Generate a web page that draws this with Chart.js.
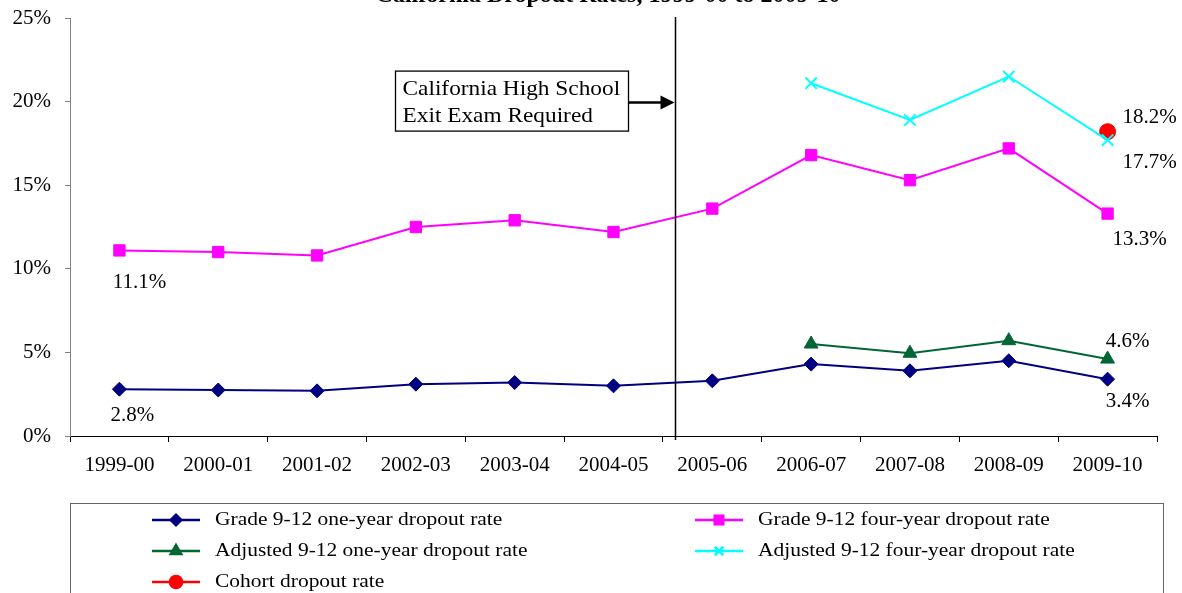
<!DOCTYPE html>
<html>
<head>
<meta charset="utf-8">
<script src="https://cdn.jsdelivr.net/npm/chart.js@4"></script>
<style>
  html, body { margin: 0; padding: 0; background: #fff; }
  canvas { display: block; }
</style>
</head>
<body>
<canvas id="chart" width="1182" height="593"></canvas>
<script>
const years = ['1999-00', '2000-01', '2001-02', '2002-03', '2003-04', '2004-05',
               '2005-06', '2006-07', '2007-08', '2008-09', '2009-10'];
const oneYear = [2.8, 2.75, 2.7, 3.1, 3.2, 3.0, 3.3, 4.3, 3.9, 4.5, 3.4];
const fourYear = [11.1, 11.0, 10.8, 12.5, 12.9, 12.2, 13.6, 16.8, 15.3, 17.2, 13.3];
const adjOneYear = [null, null, null, null, null, null, null, 5.5, 4.95, 5.7, 4.6];
const adjFourYear = [null, null, null, null, null, null, null, 21.1, 18.9, 21.5, 17.7];
const cohort = [null, null, null, null, null, null, null, null, null, null, 18.2];
const yTicks = [0, 5, 10, 15, 20, 25];

const serif = '"Liberation Serif", "Times New Roman", serif';

// series styles, also used for the hand drawn legend
const series = [
  { label: 'Grade 9-12 one-year dropout rate', data: oneYear, color: '#000080', point: 'rectRot', r: 7 },
  { label: 'Grade 9-12 four-year dropout rate', data: fourYear, color: '#ff00ff', point: 'rect', r: 8 },
  { label: 'Adjusted 9-12 one-year dropout rate', data: adjOneYear, color: '#006633', point: 'triangle', r: 8 },
  { label: 'Adjusted 9-12 four-year dropout rate', data: adjFourYear, color: '#00ffff', point: 'crossRot', r: 8 },
  { label: 'Cohort dropout rate', data: cohort, color: '#ff0000', point: 'circle', r: 8 }
];

// labels written next to some points: [series, index, text, dx, dy]
const pointLabels = [
  [1, 0, '11.1%', 20, 32],
  [0, 0, '2.8%', 13, 26],
  [4, 10, '18.2%', 42, -14],
  [3, 10, '17.7%', 42, 22],
  [1, 10, '13.3%', 32, 26],
  [2, 10, '4.6%', 20, -18],
  [0, 10, '3.4%', 20, 22]
];

// text squeezed like the source picture (a bit wider than tall)
function wideText(ctx, txt, x, y, sx) {
  ctx.save();
  ctx.translate(x, y);
  ctx.scale(sx, 1);
  ctx.fillText(txt, 0, 0);
  ctx.restore();
}

const extras = {
  id: 'extras',
  afterDraw(chart) {
    const ctx = chart.ctx;
    const xs = chart.scales.x, ys = chart.scales.y;
    const area = chart.chartArea;
    ctx.save();

    // title, cut off by the top edge as in the source
    ctx.fillStyle = '#000';
    ctx.font = 'bold 24px ' + serif;
    ctx.textAlign = 'center';
    ctx.textBaseline = 'alphabetic';
    ctx.fillText('California Dropout Rates, 1999-00 to 2009-10', 608, 2);

    // exit exam marker line
    const lx = Math.round(xs.getPixelForValue(5.62)) + 0.5;
    ctx.strokeStyle = '#000';
    ctx.lineWidth = 1.5;
    ctx.beginPath();
    ctx.moveTo(lx, area.top - 1);
    ctx.lineTo(lx, area.bottom + 4);
    ctx.stroke();

    // annotation box with arrow
    const ay = ys.getPixelForValue(20) + 1;
    const bx = 395.5, by = ay - 31.5, bw = 233, bh = 60;
    ctx.fillStyle = '#fff';
    ctx.fillRect(bx, by, bw, bh);
    ctx.lineWidth = 1.3;
    ctx.strokeRect(bx, by, bw, bh);
    ctx.fillStyle = '#000';
    ctx.font = '22px ' + serif;
    ctx.textAlign = 'left';
    ctx.textBaseline = 'middle';
    wideText(ctx, 'California High School', bx + 7, by + 18, 1.06);
    wideText(ctx, 'Exit Exam Required', bx + 7, by + 45, 1.06);
    ctx.lineWidth = 2.5;
    ctx.beginPath();
    ctx.moveTo(bx + bw, ay);
    ctx.lineTo(lx - 12, ay);
    ctx.stroke();
    ctx.beginPath();
    ctx.moveTo(lx - 1, ay);
    ctx.lineTo(lx - 15, ay - 7);
    ctx.lineTo(lx - 15, ay + 7);
    ctx.closePath();
    ctx.fill();

    // point value labels
    ctx.font = '21px ' + serif;
    ctx.textAlign = 'center';
    pointLabels.forEach(([s, i, txt, dx, dy]) => {
      const pt = chart.getDatasetMeta(s).data[i];
      ctx.fillText(txt, pt.x + dx, pt.y + dy);
    });

    // legend box
    ctx.strokeStyle = '#666';
    ctx.lineWidth = 1;
    ctx.strokeRect(70.5, 503.5, 1093, 100);
    ctx.font = '19px ' + serif;
    ctx.textAlign = 'left';
    const cols = [152, 695];
    const rows = [520, 551, 582];
    series.forEach((s, k) => {
      const cx = cols[k % 2], cy = rows[Math.floor(k / 2)];
      ctx.strokeStyle = s.color;
      ctx.fillStyle = s.color;
      ctx.lineWidth = 2.5;
      ctx.beginPath();
      ctx.moveTo(cx, cy);
      ctx.lineTo(cx + 48, cy);
      ctx.stroke();
      Chart.helpers.drawPoint(ctx, {
        pointStyle: s.point, radius: s.r * 0.75, borderWidth: 2
      }, cx + 24, cy);
      ctx.fillStyle = '#000';
      wideText(ctx, s.label, cx + 63, cy, 1.13);
    });
    ctx.restore();
  }
};

new Chart(document.getElementById('chart'), {
  type: 'line',
  data: {
    labels: years,
    datasets: series.map(s => ({
      label: s.label,
      data: s.data,
      borderColor: s.color,
      backgroundColor: s.color,
      borderWidth: 2,
      pointStyle: s.point,
      pointRadius: s.r,
      pointBorderWidth: s.point === 'crossRot' ? 2 : 1,
      tension: 0,
      spanGaps: false
    }))
  },
  options: {
    responsive: false,
    animation: false,
    layout: { padding: { top: 18, right: 25, bottom: 107, left: 0 } },
    plugins: { legend: { display: false }, title: { display: false }, tooltip: { enabled: false } },
    scales: {
      x: {
        offset: true,
        grid: { display: true, drawOnChartArea: false, drawTicks: true, tickLength: 6, color: '#000', offset: true },
        border: { color: '#000', width: 1 },
        ticks: { color: '#000', font: { family: serif, size: 21 }, padding: 11, maxRotation: 0 },
        afterFit: s => { s.height = 50; s.paddingLeft = 0; s.paddingRight = 0; }
      },
      y: {
        min: 0,
        max: 25,
        afterBuildTicks: s => { s.ticks = yTicks.map(v => ({ value: v })); },
        grid: { display: true, drawOnChartArea: false, drawTicks: true, tickLength: 5, color: '#808080' },
        border: { color: '#808080', width: 1 },
        ticks: { color: '#000', font: { family: serif, size: 21 }, padding: 14, callback: v => v + '%' },
        afterFit: s => { s.width = 70; s.paddingTop = 0; s.paddingBottom = 0; }
      }
    }
  },
  plugins: [extras]
});
</script>
</body>
</html>
